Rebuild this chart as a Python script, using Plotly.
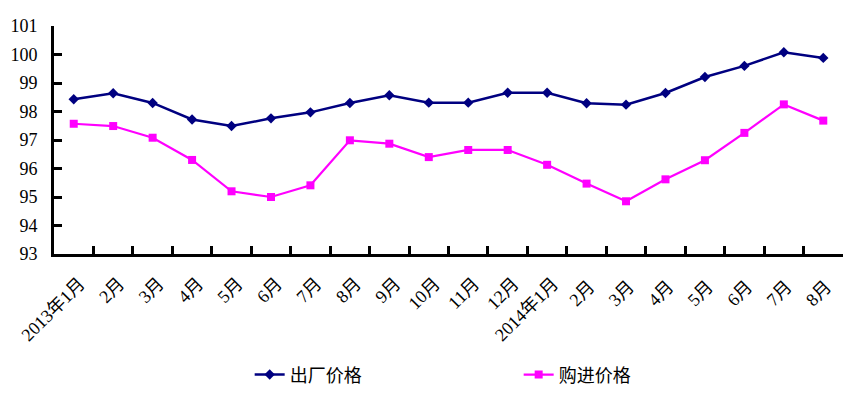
import plotly.graph_objects as go

months = ["2013年1月", "2月", "3月", "4月", "5月", "6月", "7月", "8月", "9月", "10月",
          "11月", "12月", "2014年1月", "2月 ", "3月 ", "4月 ", "5月 ", "6月 ", "7月 ", "8月 "]
factory_price = [98.43, 98.64, 98.30, 97.72, 97.49, 97.76, 97.97, 98.30, 98.57, 98.31,
                 98.31, 98.66, 98.66, 98.29, 98.24, 98.65, 99.21, 99.60, 100.08, 99.88]
purchase_price = [97.57, 97.49, 97.08, 96.30, 95.20, 95.00, 95.41, 96.99, 96.87, 96.40,
                  96.65, 96.65, 96.13, 95.47, 94.85, 95.62, 96.29, 97.25, 98.25, 97.68]
y_ticks = [93, 94, 95, 96, 97, 98, 99, 100, 101]

fig = go.Figure()
fig.add_trace(go.Scatter(
    x=months, y=factory_price, name="出厂价格", mode="lines+markers",
    line=dict(color="#000080", width=2.5),
    marker=dict(symbol="diamond", size=8, color="#000080"),
))
fig.add_trace(go.Scatter(
    x=months, y=purchase_price, name="购进价格", mode="lines+markers",
    line=dict(color="#FF00FF", width=2.2),
    marker=dict(symbol="square", size=8, color="#FF00FF"),
))

font_family = "Liberation Serif, Noto Sans CJK SC"
fig.update_layout(
    width=858, height=389,
    margin=dict(l=46, r=23, t=18, b=143, autoexpand=False),
    plot_bgcolor="white", paper_bgcolor="white",
    font=dict(family=font_family, size=17, color="black"),
    showlegend=True,
    legend=dict(
        orientation="h", x=0.248, xanchor="left", y=-0.53, yanchor="middle",
        font=dict(family="Noto Sans CJK SC", size=18, color="black"),
        entrywidth=224, entrywidthmode="pixels",
        itemwidth=30,
    ),
)
fig.update_xaxes(
    type="category", range=[-0.5, 19.5], automargin=False,
    showline=True, linecolor="black", linewidth=3,
    ticks="inside", ticklen=8, tickwidth=3, tickcolor="black",
    tickson="boundaries",
    tickangle=-45, ticklabelshift=6, ticklabelstandoff=9,
    tickfont=dict(family=font_family, size=18, color="black"),
    showgrid=False, zeroline=False,
)
fig.update_yaxes(
    range=[93, 101], tickvals=y_ticks, ticktext=[str(v) for v in y_ticks],
    automargin=False,
    showline=True, linecolor="black", linewidth=3,
    ticks="inside", ticklen=8, tickwidth=3, tickcolor="black",
    ticklabelstandoff=10,
    tickfont=dict(family=font_family, size=18, color="black"),
    showgrid=False, zeroline=False,
)

fig.write_html("out.html")
